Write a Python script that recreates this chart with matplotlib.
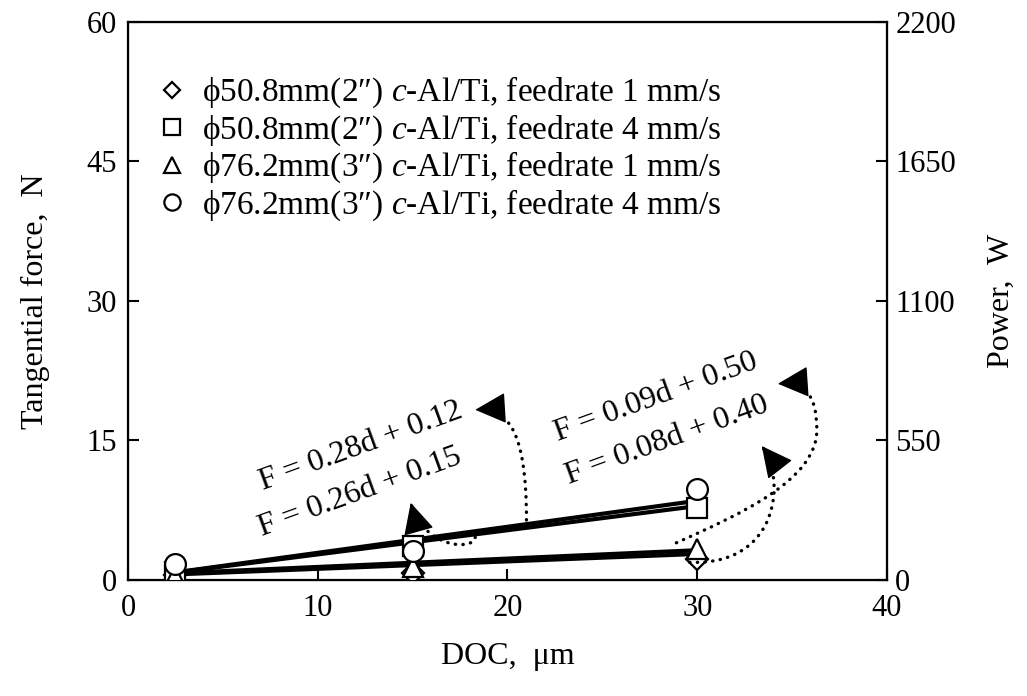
import numpy as np
import matplotlib
matplotlib.use("Agg")
import matplotlib.pyplot as plt
from matplotlib.patches import FancyArrowPatch
from matplotlib.path import Path

plt.rcParams['font.family'] = ['Liberation Serif', 'DejaVu Serif']
plt.rcParams['mathtext.fontset'] = 'custom'
plt.rcParams['mathtext.rm'] = 'Liberation Serif'
plt.rcParams['mathtext.it'] = 'Liberation Serif:italic'

# Data
doc = [2.5, 15, 30]
labels = ['ϕ50.8mm(2″) $c$-Al/Ti, feedrate 1 mm/s',
          'ϕ50.8mm(2″) $c$-Al/Ti, feedrate 4 mm/s',
          'ϕ76.2mm(3″) $c$-Al/Ti, feedrate 1 mm/s',
          'ϕ76.2mm(3″) $c$-Al/Ti, feedrate 4 mm/s']
markers = ['D', 's', '^', 'o']
msizes = [11, 14, 15, 15]
force_d50_f1 = [0.5, 0.8, 2.3]
force_d50_f4 = [0.9, 3.6, 7.7]
force_d76_f1 = [0.4, 1.4, 3.3]
force_d76_f4 = [1.7, 3.1, 9.8]
forces = [force_d50_f1, force_d50_f4, force_d76_f1, force_d76_f4]

# fitted lines F = a*d + b
fit_a = [0.28, 0.26, 0.09, 0.08]
fit_b = [0.12, 0.15, 0.50, 0.40]
fit_text = ['F = 0.28d + 0.12', 'F = 0.26d + 0.15',
            'F = 0.09d + 0.50', 'F = 0.08d + 0.40']
fit_text_pos = [(12.3, 14.4), (12.2, 9.4), (27.8, 19.6), (28.4, 15.0)]

fig = plt.figure(figsize=(10.27, 6.96), dpi=100)
ax = fig.add_axes([0.1246, 0.1667, 0.7391, 0.8017])
ax.set_xlim(0, 40)
ax.set_ylim(0, 60)

d = np.array([doc[0], doc[-1]])
for a, b in zip(fit_a, fit_b):
    ax.plot(d, a * d + b, color='black', lw=3, solid_capstyle='butt', zorder=2)

for y, m, ms, lab in zip(forces, markers, msizes, labels):
    ax.plot(doc, y, linestyle='none', marker=m, ms=ms, mfc='white', mec='black',
            mew=1.6, label=lab, zorder=3)

for t, (tx, ty) in zip(fit_text, fit_text_pos):
    ax.text(tx, ty, t, fontsize=23, rotation=20, ha='center', va='center')

# dotted arrows pointing from lines to equations
arrow_paths = [
    [(21.0, 6.45), (21.0, 16.7), (19.9, 18.5), (18.3, 18.3)],
    [(18.3, 4.6), (18.3, 3.2), (15.6, 3.2), (14.9, 8.3)],
    [(28.9, 4.0), (32.2, 7.0), (36.3, 10.75), (36.3, 16.1),
     (36.3, 19.9), (35.7, 21.3), (34.25, 21.1)],
    [(29.6, 1.9), (34.35, 1.5), (34.7, 11.0), (33.4, 14.4)],
]
for verts in arrow_paths:
    codes = [Path.MOVETO] + [Path.CURVE4] * (len(verts) - 1)
    line = FancyArrowPatch(path=Path(verts, codes), arrowstyle='-',
                           lw=2.4, linestyle=(0, (0.1, 2.2)), capstyle='round',
                           color='black', zorder=4)
    ax.add_patch(line)
    # solid filled head at the end of the curve, along the last tangent
    p0 = ax.transData.transform(verts[-2])
    p1 = ax.transData.transform(verts[-1])
    u = (p1 - p0) / np.hypot(*(p1 - p0))
    ax.annotate('', xy=verts[-1], xycoords='data',
                xytext=(-u[0] * 14, -u[1] * 14), textcoords='offset points',
                arrowprops=dict(arrowstyle='-|>,head_length=0.9,head_width=0.45',
                                mutation_scale=22, lw=1, color='black',
                                shrinkA=0, shrinkB=0), zorder=5)

ax.set_xticks([0, 10, 20, 30, 40])
ax.set_yticks([0, 15, 30, 45, 60])
ax.tick_params(direction='in', length=8, width=1.5, labelsize=22, pad=10,
               right=False, top=False)
ax.tick_params(axis='y', pad=8)
for s in ax.spines.values():
    s.set_linewidth(1.6)
ax.set_xlabel('DOC,  μm', fontsize=23, labelpad=14)
ax.set_ylabel('Tangential force,  N', fontsize=23, labelpad=26)

ax2 = ax.twinx()
ax2.set_ylim(0, 2200)
ax2.set_yticks([0, 550, 1100, 1650, 2200])
ax2.tick_params(direction='in', length=8, width=1.5, labelsize=22, pad=6)
ax2.set_ylabel('Power,  W', fontsize=23, labelpad=22)

leg = ax.legend(loc='upper left', bbox_to_anchor=(0.04, 0.905), frameon=False,
                fontsize=24, markerscale=0.78, handlelength=0.8,
                handletextpad=0.5, labelspacing=0.06, borderaxespad=0,
                borderpad=0)

fig.savefig('out.png', dpi=100)
